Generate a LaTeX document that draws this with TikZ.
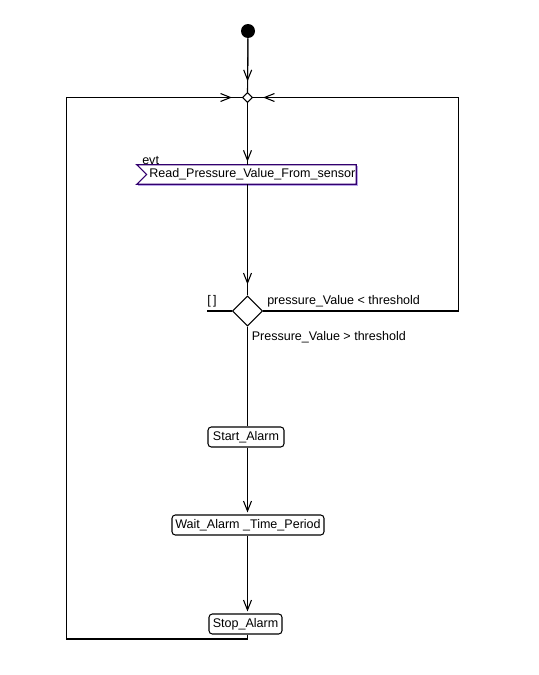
\documentclass[tikz,border=0pt]{standalone}
\usepackage{fontspec}
\setmainfont{Liberation Sans}
\usetikzlibrary{shapes.geometric,arrows.meta}
\definecolor{evtborder}{RGB}{50,0,110}
\definecolor{evtshadow}{RGB}{185,165,235}
\tikzset{
  wire/.style={line width=0.8pt},
  arr/.style={wire,-{Straight Barb[length=7.5pt,width=6pt,line width=0.8pt]}},
  actbox/.style={draw,wire,rounded corners=2.5pt,minimum height=15pt,inner sep=0pt,font=\fontsize{9.4pt}{11pt}\selectfont},
  lbl/.style={inner sep=0pt,font=\fontsize{9.4pt}{11pt}\selectfont},
}
\begin{document}
\begin{tikzpicture}[x=0.75pt,y=-0.75pt]
\useasboundingbox (0,0) rectangle (539,675);
% nodes
\node[circle,fill=black,minimum size=10.5pt,inner sep=0pt] (start) at (248,31) {};
\node[diamond,draw,wire,fill=white,minimum width=7.5pt,minimum height=7.5pt,inner sep=0pt] (merge) at (247.5,97.5) {};
\node[minimum width=164.25pt,minimum height=14.25pt,inner sep=0pt] (read) at (246.5,174.5) {};
\node[diamond,draw,wire,fill=white,minimum width=22.5pt,minimum height=22.5pt,inner sep=0pt] (dec) at (247.5,311) {};
\node[actbox,minimum width=57pt] (salarm) at (246,437) {Start\_Alarm};
\node[actbox,minimum width=114pt] (wait) at (248,525) {Wait\_Alarm \_Time\_Period};
\node[actbox,minimum width=54.75pt] (stop) at (245.5,624) {Stop\_Alarm};
% accept event shape
\draw[evtshadow,line width=0.8pt] ([shift={(1.2,1.2)}]read.north east) -- ([shift={(1.2,1.2)}]read.south east) -- ([shift={(1.2,1.2)}]read.south west);
\draw[evtborder,line width=0.8pt] (read.north west) -- (read.north east) -- (read.south east) -- (read.south west) -- ([xshift=7.5]read.west) -- cycle;
\node[lbl,anchor=west] (readtxt) at (149,174.5) {Read\_Pressure\_Value\_From\_sensor};
\node[lbl,anchor=base west] (evt) at (142,164) {evt};
% coordinates
\coordinate (rtop) at (458.5,97.5);
\coordinate (rbot) at (458.5,311);
\coordinate (lbot) at (66.5,639);
\coordinate (ltop) at (66.5,97.5);
\coordinate (sbot) at (247.5,639);
\coordinate (stub) at (207,311);
% connectors
\draw[wire] (start) -- (merge.north);
\draw[arr,shorten >=8pt] (start) -- (merge.north);
\draw[wire] (merge.south) -- (read.north -| merge);
\draw[arr,shorten >=2.25pt] (merge.south) -- (read.north -| merge);
\draw[wire] (read.south -| dec) -- (dec.north);
\draw[arr,shorten >=8.25pt] (read.south -| dec) -- (dec.north);
\draw[wire] (dec.south) -- (salarm.north -| dec);
\draw[arr,shorten >=1.5pt] (salarm.south -| dec) -- (wait.north -| dec);
\draw[arr,shorten >=1.5pt] (wait.south -| dec) -- (stop.north -| dec);
\draw[wire] (stop.south -| dec) -- (sbot) -- (lbot) -- (ltop) -- (merge.west);
\draw[arr,shorten >=7.5pt] (ltop) -- (merge.west);
\draw[wire] (dec.east) -- (rbot) -- (rtop) -- (merge.east);
\draw[arr,shorten >=7.5pt] (rtop) -- (merge.east);
\draw[wire] (stub) -- (dec.west);
% labels
\node[lbl] (else) at (212,301) {[\,]};
\node[lbl,anchor=west] (lt) at (267,301) {pressure\_Value < threshold};
\node[lbl,anchor=west] (gt) at (251.5,337) {Pressure\_Value > threshold};
\end{tikzpicture}
\end{document}
